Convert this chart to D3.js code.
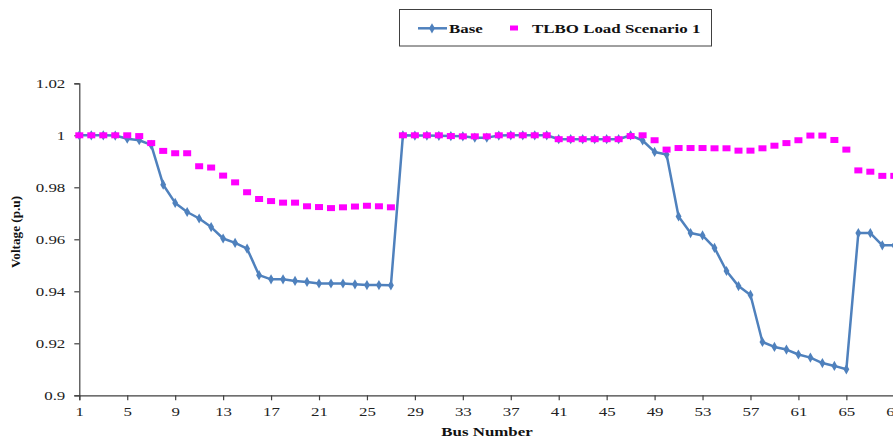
<!DOCTYPE html>
<html>
<head>
<meta charset="utf-8">
<script src="https://cdn.jsdelivr.net/npm/d3@7"></script>
<style>
	body { margin: 0; background: #fff; }
	svg { display: block; font-family: "Liberation Serif", "Times New Roman", serif; }
</style>
</head>
<body>
<svg id="chart" width="893" height="437"></svg>
<script>
// Busnummern 1..69
var buses = d3.range(1, 70);
var baseVolt = [
	1.0000, 1.0000, 1.0000, 0.9999, 0.9987, 0.9981, 0.9963, 0.9810, 0.9740, 0.9705,
	0.9680, 0.9647, 0.9603, 0.9586, 0.9564, 0.9462, 0.9446, 0.9446, 0.9440, 0.9436,
	0.9430, 0.9430, 0.9430, 0.9427, 0.9424, 0.9424, 0.9423, 1.0000, 0.9999, 0.9999,
	0.9998, 0.9997, 0.9996, 0.9991, 0.9991, 0.9999, 1.0000, 1.0000, 1.0000, 1.0000,
	0.9985, 0.9985, 0.9985, 0.9985, 0.9985, 0.9985, 1.0000, 0.9980, 0.9936, 0.9926,
	0.9688, 0.9624, 0.9615, 0.9567, 0.9478, 0.9420, 0.9386, 0.9205, 0.9186, 0.9176,
	0.9157, 0.9145, 0.9124, 0.9113, 0.9100, 0.9624, 0.9624, 0.9577, 0.9577
];
var tlboVolt = [
	1.0000, 1.0000, 1.0000, 1.0000, 1.0000, 0.9997, 0.9970, 0.9940, 0.9931, 0.9931,
	0.9881, 0.9876, 0.9845, 0.9819, 0.9781, 0.9755, 0.9747, 0.9741, 0.9741, 0.9727,
	0.9724, 0.9720, 0.9723, 0.9726, 0.9729, 0.9727, 0.9723, 1.0000, 1.0000, 1.0000,
	1.0000, 0.9997, 0.9996, 0.9996, 0.9996, 1.0000, 1.0000, 1.0000, 1.0000, 1.0000,
	0.9985, 0.9985, 0.9985, 0.9985, 0.9985, 0.9985, 0.9997, 1.0000, 0.9981, 0.9945,
	0.9951, 0.9951, 0.9951, 0.9950, 0.9950, 0.9941, 0.9941, 0.9950, 0.9960, 0.9970,
	0.9981, 0.9999, 0.9999, 0.9982, 0.9945, 0.9865, 0.9860, 0.9844, 0.9844
];
var xTicks = d3.range(1, 70, 4);
var yTicks = [0.9, 0.92, 0.94, 0.96, 0.98, 1, 1.02];
var seriesNames = ['Base', 'TLBO Load Scenario 1'];

var blue = '#4f81bd';
var pink = '#ff00ff';
var stretch = 1.3;

var svg = d3.select('#chart');
var x = d3.scaleLinear().domain([1, 69]).range([79.3, 894.3]);
var y = d3.scaleLinear().domain([0.9, 1.02]).range([395.3, 83.3]);

// Achsen
var yAxis = svg.append('g').attr('transform', 'translate(' + x(1) + ',0)')
	.call(d3.axisLeft(y).tickValues(yTicks).tickSizeOuter(0).tickSize(5).tickPadding(0)
		.tickFormat(function (d) { return d === 1 ? '1' : d3.format('.2~f')(d); }));
yAxis.selectAll('text')
	.attr('x', -14 / stretch).attr('dy', '0.35em')
	.attr('transform', 'scale(' + stretch + ',1)');

var xAxis = svg.append('g').attr('transform', 'translate(0,' + y(0.9) + ')')
	.call(d3.axisBottom(x).tickValues(xTicks).tickSizeOuter(0).tickSize(5).tickPadding(0)
		.tickFormat(d3.format('d')));
xAxis.selectAll('text').attr('y', 21).attr('dy', 0)
	.attr('transform', 'scale(' + stretch + ',1)');

svg.selectAll('.domain, .tick line').attr('stroke', '#404040').attr('stroke-width', 1.2);
svg.selectAll('.tick text').attr('fill', '#222').style('font-size', '13px')
	.style('font-family', '"Liberation Serif", serif');

// Linie Base
var line = d3.line().x(function (d, i) { return x(buses[i]); }).y(function (d) { return y(d); });
svg.append('path').datum(baseVolt)
	.attr('d', line).attr('fill', 'none')
	.attr('stroke', blue).attr('stroke-width', 2.5).attr('stroke-linejoin', 'round');
var diamond = d3.symbol().type(d3.symbolDiamond).size(30);
svg.append('g').selectAll('path').data(baseVolt).join('path')
	.attr('d', diamond).attr('fill', blue)
	.attr('transform', function (d, i) { return 'translate(' + x(buses[i]) + ',' + y(d) + ')'; });

// TLBO Marker
svg.append('g').selectAll('rect').data(tlboVolt).join('rect')
	.attr('x', function (d, i) { return x(buses[i]) - 4; })
	.attr('y', function (d) { return y(d) - 3; })
	.attr('width', 8).attr('height', 6).attr('fill', pink);

// Achsentitel
svg.append('text')
	.attr('transform', 'translate(20,232) rotate(-90) scale(1.1,1)')
	.attr('text-anchor', 'middle').attr('font-weight', 'bold').attr('font-size', 12)
	.attr('fill', '#111').text('Voltage (p.u)');
svg.append('text')
	.attr('transform', 'translate(487,436) scale(' + stretch + ',1)')
	.attr('text-anchor', 'middle').attr('font-weight', 'bold').attr('font-size', 13)
	.attr('fill', '#111').text('Bus Number');

// Legende
var lg = svg.append('g');
lg.append('rect').attr('x', 399.5).attr('y', 9.5).attr('width', 312).attr('height', 36.5)
	.attr('fill', '#fff').attr('stroke', '#404040').attr('stroke-width', 1);
lg.append('line').attr('x1', 418).attr('x2', 447).attr('y1', 28.3).attr('y2', 28.3)
	.attr('stroke', blue).attr('stroke-width', 2.5);
lg.append('path').attr('d', diamond).attr('fill', blue).attr('transform', 'translate(432,28.3)');
lg.append('text').attr('transform', 'translate(449,32.5) scale(' + stretch + ',1)')
	.attr('font-weight', 'bold').attr('font-size', 13).attr('fill', '#111').text(seriesNames[0]);
lg.append('rect').attr('x', 510).attr('y', 25.5).attr('width', 8).attr('height', 5).attr('fill', pink);
lg.append('text').attr('transform', 'translate(532,32.5) scale(' + stretch + ',1)')
	.attr('font-weight', 'bold').attr('font-size', 13).attr('fill', '#111').text(seriesNames[1]);
</script>
</body>
</html>
